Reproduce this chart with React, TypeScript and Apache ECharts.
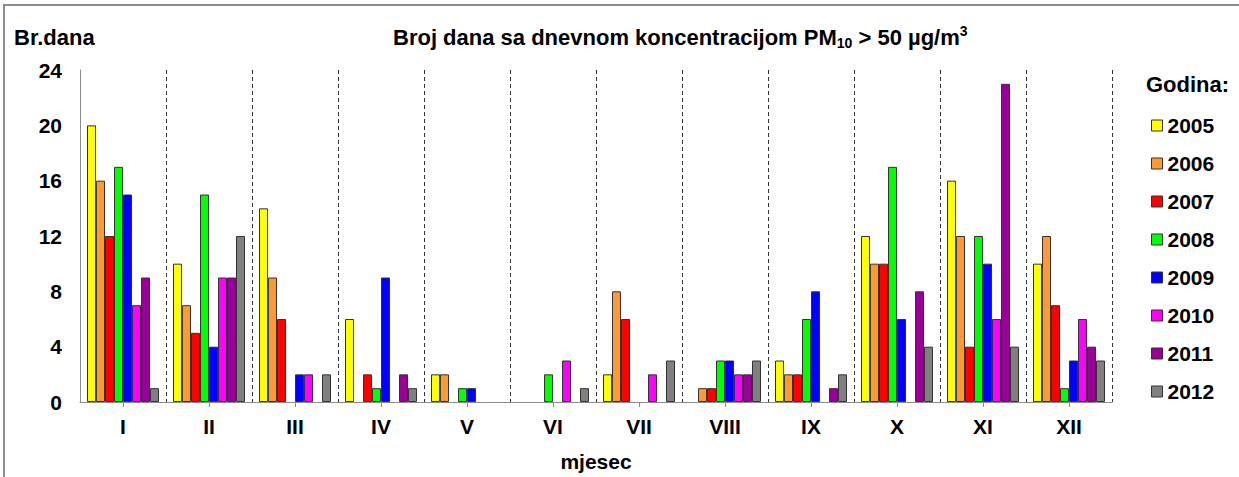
import React, { useEffect, useRef } from "react";
import * as echarts from "echarts";

const months = ["I", "II", "III", "IV", "V", "VI", "VII", "VIII", "IX", "X", "XI", "XII"];
const years = ["2005", "2006", "2007", "2008", "2009", "2010", "2011", "2012"];
const colors = ["#FFFF00", "#FF9933", "#FF0000", "#00FF00", "#0000FF", "#FF00FF", "#990099", "#808080"];

const s2005 = [20, 10, 14, 6, 2, 0, 2, 0, 3, 12, 16, 10];
const s2006 = [16, 7, 9, 0, 2, 0, 8, 1, 2, 10, 12, 12];
const s2007 = [12, 5, 6, 2, 0, 0, 6, 1, 2, 10, 4, 7];
const s2008 = [17, 15, 0, 1, 1, 2, 0, 3, 6, 17, 12, 1];
const s2009 = [15, 4, 2, 9, 1, 0, 0, 3, 8, 6, 10, 3];
const s2010 = [7, 9, 2, 0, 0, 3, 2, 2, 0, 0, 6, 6];
const s2011 = [9, 9, 0, 2, 0, 0, 0, 2, 1, 8, 23, 4];
const s2012 = [1, 12, 2, 1, 0, 1, 3, 3, 2, 4, 4, 3];
const seriesValues = [s2005, s2006, s2007, s2008, s2009, s2010, s2011, s2012];

const yMin = 0;
const yMax = 24;
const yStep = 4;

const FONT = "'Liberation Sans', Arial, sans-serif";

export default function App() {
  const ref = useRef<HTMLDivElement>(null);
  useEffect(() => {
    const chart = echarts.init(ref.current!, null, { renderer: "svg" });
    chart.setOption({
      animation: false,
      backgroundColor: "#ffffff",
      textStyle: { fontFamily: FONT },
      grid: { left: 80, right: 127, top: 70, bottom: 74 },
      xAxis: {
        type: "category",
        data: months,
        axisLine: { show: true, lineStyle: { color: "#8c8c8c", width: 1 } },
        axisTick: { show: true, alignWithLabel: true, length: 5, lineStyle: { color: "#8c8c8c" } },
        axisLabel: { color: "#000", fontWeight: "bold", fontSize: 21, margin: 14, fontFamily: FONT },
        splitLine: {
          show: true,
          interval: (i: number) => i !== 0,
          lineStyle: { color: "#333", width: 1, type: [4, 3] },
        },
        name: "mjesec",
        nameLocation: "middle",
        nameGap: 49,
        nameTextStyle: { color: "#000", fontWeight: "bold", fontSize: 21, fontFamily: FONT },
      },
      yAxis: {
        type: "value",
        min: yMin,
        max: yMax,
        interval: yStep,
        axisLine: { show: true, lineStyle: { color: "#8c8c8c", width: 1 } },
        axisTick: { show: false },
        splitLine: { show: false },
        axisLabel: { color: "#000", fontWeight: "bold", fontSize: 21, margin: 18, fontFamily: FONT },
      },
      legend: {
        orient: "vertical",
        left: 1151,
        top: 115,
        padding: 0,
        itemWidth: 11,
        itemHeight: 11,
        itemGap: 17,
        icon: "rect",
        data: years,
        itemStyle: { borderColor: "#333", borderWidth: 1 },
        textStyle: { color: "#000", fontWeight: "bold", fontSize: 21, lineHeight: 20, fontFamily: FONT },
      },
      series: years.map((y, i) => ({
        name: y,
        type: "bar",
        barWidth: 9,
        barGap: "0%",
        itemStyle: { color: colors[i], borderColor: "#333", borderWidth: 1 },
        data: seriesValues[i].map((v) => (v === 0 ? null : v)),
      })),
      graphic: [
        {
          type: "polyline",
          shape: { points: [[4, 477], [4, 5], [1239, 5]] },
          style: { stroke: "#8c8c8c", lineWidth: 2, fill: "none" },
          silent: true,
        },
        {
          type: "text",
          left: 14,
          top: 26,
          style: { text: "Br.dana", font: `bold 22px ${FONT}`, fill: "#000" },
        },
        {
          type: "text",
          left: 1146,
          top: 73,
          style: { text: "Godina:", font: `bold 22px ${FONT}`, fill: "#000" },
        },
        {
          type: "text",
          left: 393,
          top: 24,
          style: {
            text: "{t|Broj dana sa dnevnom koncentracijom PM}{sub|10}{t| > 50 µg/m}{sup|3}",
            fill: "#000",
            rich: {
              t: { fontSize: 22, fontWeight: "bold", fontFamily: FONT, lineHeight: 26, fill: "#000" },
              sub: { fontSize: 14, fontWeight: "bold", fontFamily: FONT, lineHeight: 15, verticalAlign: "bottom", fill: "#000" },
              sup: { fontSize: 14, fontWeight: "bold", fontFamily: FONT, lineHeight: 14, verticalAlign: "top", fill: "#000" },
            },
          },
        },
      ],
    });
    return () => chart.dispose();
  }, []);
  return (
    <div
      ref={ref}
      style={{ position: "fixed", left: 0, top: 0, width: 1239, height: 477, background: "#fff" }}
    />
  );
}
